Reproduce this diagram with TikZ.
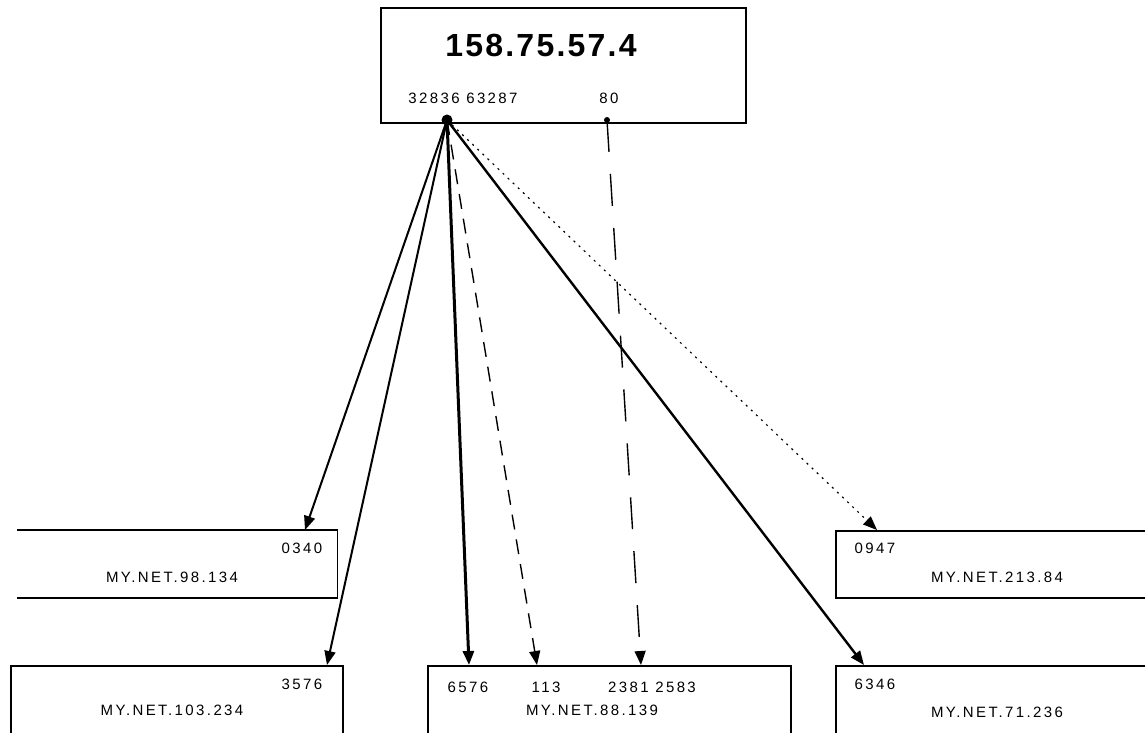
\documentclass[tikz,border=0pt]{standalone}
\usepackage{fontspec}
\setmainfont{Liberation Sans}
\newfontfamily\lblfont[LetterSpace=16]{Liberation Sans}
\newfontfamily\ttlfont[LetterSpace=7]{Liberation Sans}
\usetikzlibrary{arrows.meta}

\begin{document}
\begin{tikzpicture}[x=1pt, y=-1pt,
      arr/.style={-{Triangle[length=14pt, width=11pt]}, line width=2pt},
      hostbox/.style={draw, line width=1.6pt, rectangle, anchor=north west, inner sep=0pt},
      lbl/.style={font=\lblfont\fontsize{15}{17}\selectfont, inner sep=0pt},
      ttl/.style={font=\ttlfont\bfseries\fontsize{32}{36}\selectfont, inner sep=0pt}
    ]
    \useasboundingbox (0,0) rectangle (1145,732);
    \clip (0,0) rectangle (1145,732);

    % == source host ==========================================================
    \node[hostbox, minimum width=365pt, minimum height=115pt] (src) at (380,7) {};
    \node[ttl] (srcip) at (541,45) {158.75.57.4};
    \node[lbl] (srcpa) at (463,98) {32836 63287};
    \node[lbl] (srcpb) at (609,98) {80};
    \coordinate (pa) at (447,120);
    \coordinate (pb) at (607,120);
    \fill (pa) circle (5.5pt);
    \fill (pb) circle (3pt);

    % == destination hosts ====================================================
    % upper left (open on its left side)
    \node[inner sep=0pt, anchor=north west, minimum width=320pt, minimum height=67.5pt] (dsta) at (17,530) {};
    \draw[line width=1.6pt] (dsta.north west) -- (dsta.north east) -- (dsta.south east) -- (dsta.south west);
    \node[lbl] (dstap) at (302,548) {0340};
    \node[lbl] (dstan) at (172,577) {MY.NET.98.134};

    % upper right
    \node[hostbox, minimum width=330pt, minimum height=67pt] (dstb) at (835,530) {};
    \node[lbl] (dstbp) at (875,548) {0947};
    \node[lbl] (dstbn) at (997,577) {MY.NET.213.84};

    % lower left
    \node[hostbox, minimum width=332pt, minimum height=100pt] (dstc) at (10,665) {};
    \node[lbl] (dstcp) at (302,684) {3576};
    \node[lbl] (dstcn) at (172,710) {MY.NET.103.234};

    % lower middle
    \node[hostbox, minimum width=363pt, minimum height=100pt] (dstd) at (427,665) {};
    \node[lbl] (dstdp) at (468,687) {6576};
    \node[lbl] (dstdq) at (546,687) {113};
    \node[lbl] (dstdr) at (652,687) {2381 2583};
    \node[lbl] (dstdn) at (592,710) {MY.NET.88.139};

    % lower right
    \node[hostbox, minimum width=330pt, minimum height=100pt] (dste) at (835,665) {};
    \node[lbl] (dstep) at (875,684) {6346};
    \node[lbl] (dsten) at (997,712) {MY.NET.71.236};

    % == connections ==========================================================
    \coordinate (ta) at (305,530);
    \coordinate (tb) at (877,530);
    \coordinate (tc) at (327,665);
    \coordinate (td) at (469,665);
    \coordinate (te) at (537,665);
    \coordinate (tf) at (641,665);
    \coordinate (tg) at (864,665);

    \draw[arr] (pa) -- (ta);
    \draw[arr] (pa) -- (tc);
    \draw[arr, line width=3pt] (pa) -- (td);
    \draw[arr, line width=1.4pt, dash pattern=on 15pt off 10pt] (pa) -- (te);
    \draw[arr, line width=2.4pt] (pa) -- (tg);
    \draw[arr, line width=1.2pt, dash pattern=on 2pt off 5pt] (pa) -- (tb);
    \draw[arr, line width=1.4pt, dash pattern=on 32pt off 22pt] (pb) -- (tf);

  \end{tikzpicture}
\end{document}
